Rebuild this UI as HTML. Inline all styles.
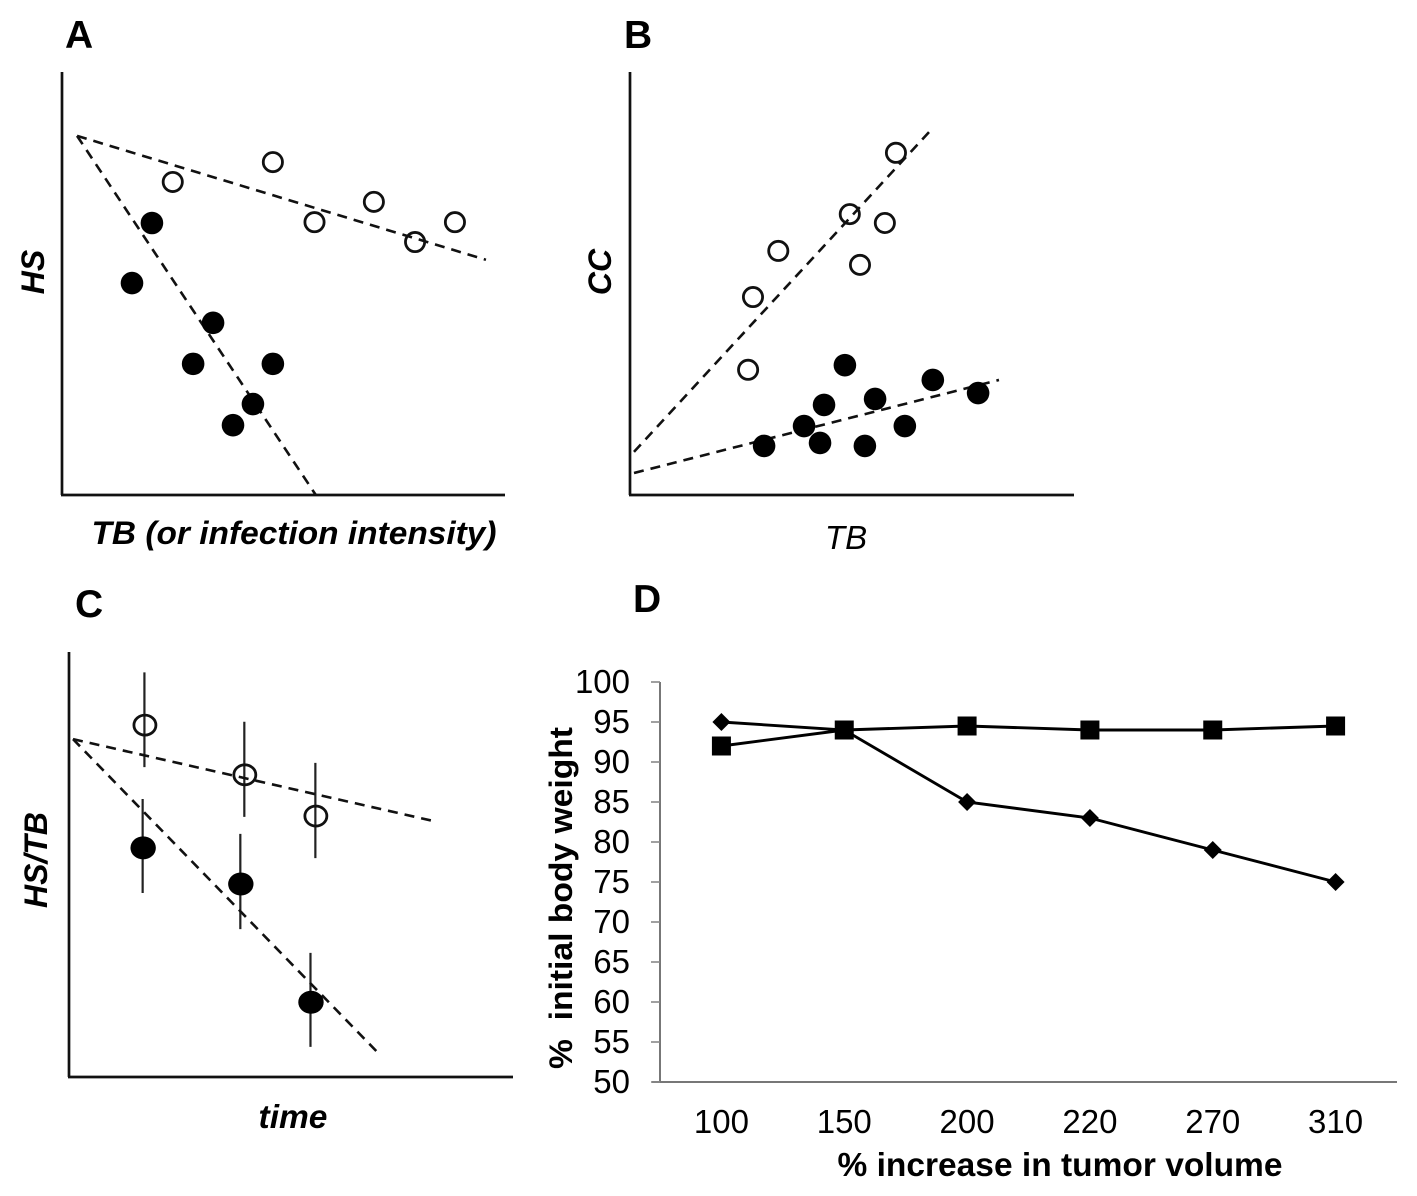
<!DOCTYPE html>
<html>
<head>
<meta charset="utf-8">
<title>Panels A-D</title>
<style>
html,body{margin:0;padding:0;background:#fff;}
#fig{display:block;width:1417px;height:1196px;background:#fff;font-family:"Liberation Sans",sans-serif;}
</style>
</head>
<body>
<svg id="fig" xmlns="http://www.w3.org/2000/svg" width="1417" height="1196" viewBox="0 0 1417 1196"></svg>
<script>
// Panel A (relative schematic units, 0-100)
const aOpenX = [25, 47.6, 57, 70.4, 79.7, 88.7];
const aOpenY = [74, 78.7, 64.5, 69.3, 59.8, 64.5];
const aFilledX = [20.3, 15.8, 34.1, 29.6, 47.6, 43.1, 38.6];
const aFilledY = [64.3, 50.1, 40.7, 31, 31, 21.5, 16.5];
const aOpenTrendX = [3.4, 95.7];
const aOpenTrendY = [84.9, 55.6];
const aFilledTrendX = [3.4, 57.3];
const aFilledTrendY = [84.9, 0];

// Panel B
const bOpenX = [59.9, 49.5, 57.4, 33.4, 51.8, 27.7, 26.6];
const bOpenY = [80.9, 66.4, 64.3, 57.7, 54.4, 46.8, 29.6];
const bFilledX = [48.4, 68.2, 78.4, 43.7, 55.2, 39.2, 61.9, 30.2, 42.8, 52.9];
const bFilledY = [30.7, 27.2, 24.1, 21.3, 22.7, 16.3, 16.3, 11.6, 12.3, 11.6];
const bOpenTrendX = [0.9, 67.8];
const bOpenTrendY = [10.2, 86.3];
const bFilledTrendX = [0.9, 83.1];
const bFilledTrendY = [5.2, 27.2];

// Panel C
const cOpenX = [17.1, 39.6, 55.6];
const cOpenY = [82.8, 71.1, 61.4];
const cOpenErrUp = [12.4, 12.5, 12.5];
const cOpenErrDown = [9.9, 9.9, 9.9];
const cFilledX = [16.7, 38.7, 54.5];
const cFilledY = [53.9, 45.4, 17.6];
const cFilledErrUp = [11.5, 11.8, 11.6];
const cFilledErrDown = [10.6, 10.6, 10.5];
const cOpenTrendX = [0.9, 82.2];
const cOpenTrendY = [79.5, 60.2];
const cFilledTrendX = [0.9, 69.4];
const cFilledTrendY = [79.5, 5.9];

// Panel D
const dCategories = ['100', '150', '200', '220', '270', '310'];
const dDiamondSeries = [95, 94, 85, 83, 79, 75];
const dSquareSeries = [92, 94, 94.5, 94, 94, 94.5];
const dYTicks = [50, 55, 60, 65, 70, 75, 80, 85, 90, 95, 100];

const NS = 'http://www.w3.org/2000/svg';
const fig = document.getElementById('fig');

function mk(tag, attrs, parent, text) {
  const el = document.createElementNS(NS, tag);
  for (const k in attrs) el.setAttribute(k, attrs[k]);
  if (text !== undefined) el.textContent = text;
  (parent || fig).appendChild(el);
  return el;
}
function group(name) {
  const g = document.createElementNS(NS, 'g');
  
  
  fig.appendChild(g);
  return g;
}
function linear(d0, d1, r0, r1) {
  return function (v) { return r0 + (v - d0) * (r1 - r0) / (d1 - d0); };
}

function axes(g, x0, y0, x1, y1) {
  const yAxis = mk('line', {x1: x0, y1: y0, x2: x0, y2: y1, stroke: '#111', 'stroke-width': 2.7}, g);
  
  
  const xAxis = mk('line', {x1: x0 - 1, y1: y0, x2: x1, y2: y0, stroke: '#111', 'stroke-width': 2.7}, g);
  
  
}
function trend(g, sx, sy, xs, ys, name) {
  const l = mk('line', {x1: sx(xs[0]), y1: sy(ys[0]), x2: sx(xs[1]), y2: sy(ys[1]),
    stroke: '#111', 'stroke-width': 2.6, 'stroke-dasharray': '10 7'}, g);
  
  
}
function dots(g, sx, sy, xs, ys, filled, rx, ry, name) {
  xs.forEach(function (x, i) {
    const c = mk('ellipse', {cx: sx(x), cy: sy(ys[i]),
      rx: rx, ry: ry,
      fill: filled ? '#000' : 'none',
      stroke: filled ? 'none' : '#111', 'stroke-width': 2.8}, g);
    
    
  });
}
function errors(g, sx, sy, xs, ys, ups, downs, name) {
  xs.forEach(function (x, i) {
    const e = mk('line', {x1: sx(x) - 0.5, y1: sy(ys[i] + ups[i]), x2: sx(x) - 0.5, y2: sy(ys[i] - downs[i]),
      stroke: '#222', 'stroke-width': 2.2}, g);
    
    
  });
}
function label(g, str, x, y, size, weight, style, anchor, name, rotate, len) {
  const attrs = {x: x, y: y, 'font-size': size, 'font-weight': weight, 'font-style': style,
    'text-anchor': anchor, fill: '#000', 'font-family': '"Liberation Sans", sans-serif'};
  if (rotate) attrs.transform = 'rotate(-90 ' + x + ' ' + y + ')';
  if (len) { attrs.textLength = len; attrs.lengthAdjust = 'spacingAndGlyphs'; }
  const t = mk('text', attrs, g, str);
  
  
}

// ---- Panel A ----
(function () {
  const g = group('panel-a');
  const sx = linear(0, 100, 62, 505), sy = linear(0, 100, 495, 72);
  label(g, 'A', 65, 48, 39, 'bold', 'normal', 'start', 'panel-a-label');
  axes(g, 62, 495, 505, 72);
  trend(g, sx, sy, aOpenTrendX, aOpenTrendY, 'open-trend-line');
  trend(g, sx, sy, aFilledTrendX, aFilledTrendY, 'filled-trend-line');
  dots(g, sx, sy, aOpenX, aOpenY, false, 9.6, 9.6, 'open-point');
  dots(g, sx, sy, aFilledX, aFilledY, true, 11.3, 11.3, 'filled-point');
  label(g, 'HS', 44, 272, 32, 'bold', 'italic', 'middle', 'y-axis-title', true);
  label(g, 'TB (or infection intensity)', 294, 544, 32, 'bold', 'italic', 'middle', 'x-axis-title', false, 405);
})();

// ---- Panel B ----
(function () {
  const g = group('panel-b');
  const sx = linear(0, 100, 630, 1074), sy = linear(0, 100, 495, 72);
  label(g, 'B', 624, 48, 39, 'bold', 'normal', 'start', 'panel-b-label');
  axes(g, 630, 495, 1074, 72);
  trend(g, sx, sy, bOpenTrendX, bOpenTrendY, 'open-trend-line');
  trend(g, sx, sy, bFilledTrendX, bFilledTrendY, 'filled-trend-line');
  dots(g, sx, sy, bOpenX, bOpenY, false, 9.6, 9.6, 'open-point');
  dots(g, sx, sy, bFilledX, bFilledY, true, 11.3, 11.3, 'filled-point');
  label(g, 'CC', 611, 272, 32, 'bold', 'italic', 'middle', 'y-axis-title', true);
  label(g, 'TB', 846, 549, 33, 'normal', 'italic', 'middle', 'x-axis-title');
})();

// ---- Panel C ----
(function () {
  const g = group('panel-c');
  const sx = linear(0, 100, 69, 513), sy = linear(0, 100, 1077, 652);
  label(g, 'C', 75, 617, 39, 'bold', 'normal', 'start', 'panel-c-label');
  axes(g, 69, 1077, 513, 652);
  errors(g, sx, sy, cOpenX, cOpenY, cOpenErrUp, cOpenErrDown, 'open-error-bar');
  errors(g, sx, sy, cFilledX, cFilledY, cFilledErrUp, cFilledErrDown, 'filled-error-bar');
  trend(g, sx, sy, cOpenTrendX, cOpenTrendY, 'open-trend-line');
  trend(g, sx, sy, cFilledTrendX, cFilledTrendY, 'filled-trend-line');
  dots(g, sx, sy, cOpenX, cOpenY, false, 11, 10, 'open-point');
  dots(g, sx, sy, cFilledX, cFilledY, true, 12.7, 11.5, 'filled-point');
  label(g, 'HS/TB', 47, 860, 32, 'bold', 'italic', 'middle', 'y-axis-title', true);
  label(g, 'time', 293, 1128, 33.5, 'bold', 'italic', 'middle', 'x-axis-title');
})();

// ---- Panel D ----
(function () {
  const g = group('panel-d');
  const left = 660, right = 1397, top = 682, bottom = 1082;
  const sy = linear(50, 100, bottom, top);
  const band = (right - left) / dCategories.length;
  const sx = function (i) { return left + band * (i + 0.5); };
  label(g, 'D', 633, 612, 39, 'bold', 'normal', 'start', 'panel-d-label');

  const yAxisD = mk('line', {x1: left, y1: top, x2: left, y2: bottom, stroke: '#777', 'stroke-width': 2}, g);
  
  
  const xAxisD = mk('line', {x1: left - 8, y1: bottom, x2: right, y2: bottom, stroke: '#777', 'stroke-width': 2}, g);
  
  

  dYTicks.forEach(function (v) {
    const t = mk('line', {x1: left - 9, y1: sy(v), x2: left, y2: sy(v), stroke: '#888', 'stroke-width': 1.6}, g);
    
    
    label(g, String(v), 630, sy(v) + 11, 33, 'normal', 'normal', 'end', 'y-tick-label');
  });
  dCategories.forEach(function (c, i) {
    label(g, c, sx(i), 1133, 33, 'normal', 'normal', 'middle', 'x-tick-label');
  });

  function path(values) {
    return values.map(function (v, i) { return (i ? 'L' : 'M') + sx(i) + ' ' + sy(v); }).join(' ');
  }
  const lineD = mk('path', {d: path(dDiamondSeries), fill: 'none', stroke: '#000', 'stroke-width': 2.9}, g);
  
  
  const lineS = mk('path', {d: path(dSquareSeries), fill: 'none', stroke: '#000', 'stroke-width': 2.9}, g);
  
  

  dDiamondSeries.forEach(function (v, i) {
    const x = sx(i), y = sy(v), r = 9;
    const p = mk('polygon', {points: [x - r, y, x, y - r, x + r, y, x, y + r].join(' '), fill: '#000'}, g);
    
    
  });
  dSquareSeries.forEach(function (v, i) {
    const s = 19;
    const r = mk('rect', {x: sx(i) - s / 2, y: sy(v) - s / 2, width: s, height: s, fill: '#000'}, g);
    
    
  });

  label(g, '%\u00a0\u00a0initial body weight', 572, 898, 32, 'bold', 'normal', 'middle', 'y-axis-title', true, 342);
  label(g, '% increase in tumor volume', 1060, 1176, 33, 'bold', 'normal', 'middle', 'x-axis-title', false, 445);
})();
</script>
</body>
</html>
